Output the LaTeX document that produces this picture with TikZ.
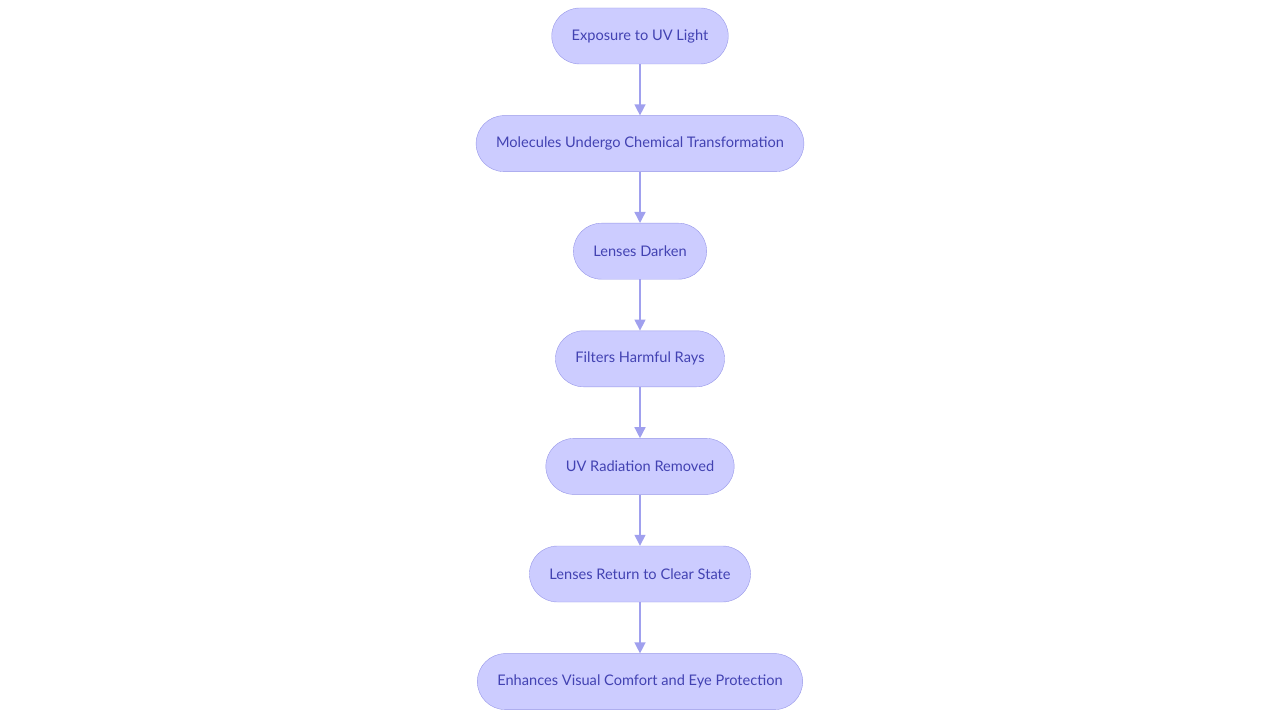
\documentclass[tikz,border=0pt]{standalone}
\usepackage{fontspec}
\setmainfont{Lato}
\usetikzlibrary{positioning,arrows.meta}

\definecolor{boxfill}{RGB}{204,204,255}
\definecolor{boxline}{RGB}{150,150,232}
\definecolor{boxtext}{RGB}{66,66,178}
\definecolor{arrowcol}{RGB}{160,160,238}

\tikzset{
    stepbox/.style={draw=boxline, fill=boxfill, text=boxtext,
        rounded corners=28pt, minimum height=56pt, inner xsep=20pt,
        font=\fontsize{14.6}{17}\selectfont},
    flow/.style={draw=arrowcol, line width=1.4pt,
        -{Triangle[width=11pt,length=11pt]}}
}

\begin{document}
\begin{tikzpicture}
    \useasboundingbox (0pt,0pt) rectangle (1280pt,-722pt);

    \node[stepbox] (uv) at (640pt,-36pt) {Exposure to UV Light};
    \node[stepbox, below=51.2pt of uv] (mol) {Molecules Undergo Chemical Transformation};
    \node[stepbox, below=51.2pt of mol] (dark) {Lenses Darken};
    \node[stepbox, below=51.2pt of dark] (filt) {Filters Harmful Rays};
    \node[stepbox, below=51.2pt of filt] (rem) {UV Radiation Removed};
    \node[stepbox, below=51.2pt of rem] (clear) {Lenses Return to Clear State};
    \node[stepbox, below=51.2pt of clear] (prot) {Enhances Visual Comfort and Eye Protection};

    \draw[flow] (uv) -- (mol);
    \draw[flow] (mol) -- (dark);
    \draw[flow] (dark) -- (filt);
    \draw[flow] (filt) -- (rem);
    \draw[flow] (rem) -- (clear);
    \draw[flow] (clear) -- (prot);
\end{tikzpicture}
\end{document}
